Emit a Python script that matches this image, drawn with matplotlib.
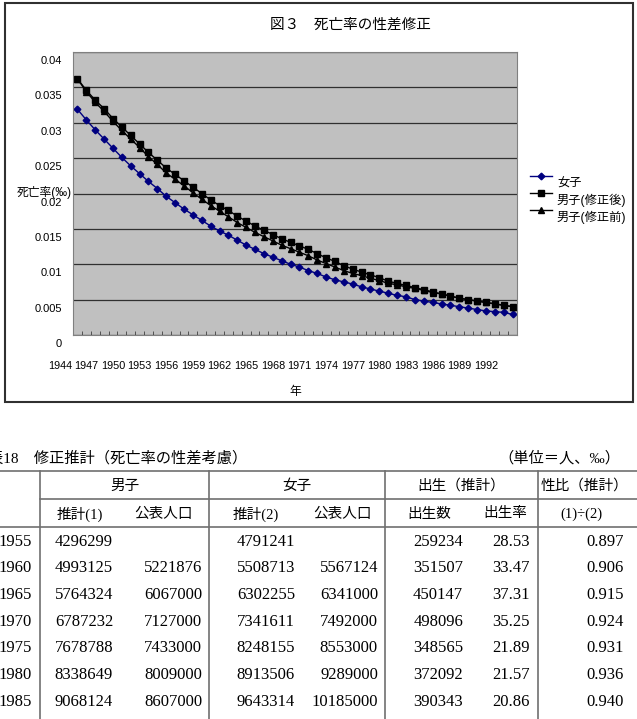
import numpy as np
import matplotlib
matplotlib.use("Agg")
import matplotlib.pyplot as plt
from matplotlib.lines import Line2D
from matplotlib.patches import Rectangle
from matplotlib.transforms import ScaledTranslation

plt.rcParams['font.family'] = ['Liberation Sans', 'Noto Sans CJK JP']
SERIF = ['Liberation Serif', 'Noto Sans CJK JP']

# ---- chart data (death rate) ----
years = list(range(1944, 1994))
female = [0.0319, 0.0304, 0.0290, 0.0277, 0.0264, 0.0251, 0.0239, 0.0228, 0.0217, 0.0207,
          0.0196, 0.0187, 0.0178, 0.0170, 0.0162, 0.0154, 0.0147, 0.0141, 0.0134, 0.0127,
          0.0121, 0.0115, 0.0110, 0.0105, 0.0100, 0.0096, 0.0091, 0.0087, 0.0082, 0.0078,
          0.0075, 0.0072, 0.0068, 0.0065, 0.0062, 0.0059, 0.0056, 0.0054, 0.0050, 0.0048,
          0.0046, 0.0044, 0.0042, 0.0040, 0.0038, 0.0036, 0.0034, 0.0033, 0.0032, 0.0029]
male_after = [0.0362, 0.0346, 0.0332, 0.0320, 0.0306, 0.0294, 0.0282, 0.0270, 0.0258, 0.0247,
              0.0236, 0.0227, 0.0218, 0.0209, 0.0200, 0.0191, 0.0183, 0.0176, 0.0168, 0.0161,
              0.0154, 0.0148, 0.0142, 0.0136, 0.0131, 0.0126, 0.0121, 0.0115, 0.0109, 0.0104,
              0.0098, 0.0093, 0.0089, 0.0085, 0.0081, 0.0076, 0.0073, 0.0070, 0.0067, 0.0064,
              0.0061, 0.0058, 0.0055, 0.0052, 0.0050, 0.0048, 0.0046, 0.0044, 0.0042, 0.0040]
male_before = [0.0362, 0.0344, 0.0329, 0.0316, 0.0302, 0.0289, 0.0277, 0.0265, 0.0252, 0.0241,
               0.0229, 0.0220, 0.0211, 0.0201, 0.0192, 0.0183, 0.0175, 0.0167, 0.0159, 0.0152,
               0.0145, 0.0139, 0.0133, 0.0127, 0.0122, 0.0117, 0.0112, 0.0106, 0.0101, 0.0096,
               0.0091, 0.0087, 0.0084, 0.0080, 0.0077, 0.0073, 0.0071, 0.0068, 0.0066, 0.0063,
               0.0060, 0.0058, 0.0055, 0.0052, 0.0050, 0.0048, 0.0046, 0.0044, 0.0042, 0.0040]
series_labels = ['女子', '男子(修正後)', '男子(修正前)']
yticks = [0, 0.005, 0.01, 0.015, 0.02, 0.025, 0.03, 0.035, 0.04]
ytick_labels = ['0', '0.005', '0.01', '0.015', '0.02', '0.025', '0.03', '0.035', '0.04']

# ---- table data ----
tbl_years = [1955, 1960, 1965, 1970, 1975, 1980, 1985]
male_est = [4296299, 4993125, 5764324, 6787232, 7678788, 8338649, 9068124]
male_pub = [None, 5221876, 6067000, 7127000, 7433000, 8009000, 8607000]
female_est = [4791241, 5508713, 6302255, 7341611, 8248155, 8913506, 9643314]
female_pub = [None, 5567124, 6341000, 7492000, 8553000, 9289000, 10185000]
births = [259234, 351507, 450147, 498096, 348565, 372092, 390343]
birth_rate = [28.53, 33.47, 37.31, 35.25, 21.89, 21.57, 20.86]
sex_ratio = [0.897, 0.906, 0.915, 0.924, 0.931, 0.936, 0.940]

W, H = 637, 719


def fx(x):
    return x / W


def fy(y):
    return 1 - y / H


fig = plt.figure(figsize=(W / 100, H / 100), dpi=100)

# outer chart frame
fig.add_artist(Rectangle((fx(5), fy(402)), fx(628), (402 - 3) / H, fill=False,
                         ec='#303030', lw=1.5, transform=fig.transFigure))

fig.text(fx(350), fy(25), '図３　死亡率の性差修正', ha='center', va='center',
         fontsize=10.5, family=SERIF)

ax = fig.add_axes([fx(73), fy(335), 444 / W, 283 / H])
ax.set_facecolor('#c0c0c0')
x = np.arange(len(years))
ax.plot(x, female, color='#000080', marker='D', ms=3.4, lw=1, label=series_labels[0])
ax.plot(x, male_after, color='black', marker='s', ms=4, lw=1, label=series_labels[1])
ax.plot(x, male_before, color='black', marker='^', ms=4, lw=1, label=series_labels[2])

ax.set_xlim(-0.5, len(years) - 0.5)
ax.set_ylim(0, 0.04)
ax.set_yticks(yticks)
ax.set_yticklabels(ytick_labels, fontsize=8)
ax.yaxis.grid(True, color='#303030', lw=0.9)
ax.set_axisbelow(True)
for s in ax.spines.values():
    s.set_color('#808080')
ax.tick_params(axis='y', length=0, pad=8)

ax.set_xticks(x[::3])
ax.set_xticklabels([str(y) for y in years[::3]], fontsize=7.8)
ax.set_xticks(np.arange(-0.5, len(years), 1), minor=True)
ax.tick_params(axis='x', which='major', length=0, pad=19)
ax.tick_params(axis='x', which='minor', direction='in', length=3, color='#404040')

# labels in the source sit a little off their ticks
for lbl in ax.get_yticklabels():
    lbl.set_transform(lbl.get_transform() + ScaledTranslation(0, -0.08, fig.dpi_scale_trans))
for lbl in ax.get_xticklabels():
    lbl.set_transform(lbl.get_transform() + ScaledTranslation(-0.176, 0, fig.dpi_scale_trans))

ax.set_ylabel('死亡率(‰)', rotation=0, ha='left', va='center', fontsize=8.5)
ax.yaxis.set_label_coords((16.7 - 73) / 444, (335 - 192.3) / 283)
ax.set_xlabel('年', va='center', fontsize=8.5)
ax.xaxis.set_label_coords(0.5, (335 - 391.7) / 283)

leg = fig.legend(loc='upper left', bbox_to_anchor=(fx(530), fy(171)), frameon=False,
                 prop={'family': ['Liberation Sans', 'Noto Sans CJK JP'], 'size': 8.8},
                 handlelength=1.8, handletextpad=0.4, labelspacing=0.32,
                 borderpad=0, borderaxespad=0)
for t in leg.get_texts():
    t.set_y(-7)

# ---- table ----
fig.text(fx(-12.3), fy(458), '表18　修正推計（死亡率の性差考慮）', ha='left', va='center',
         fontsize=11, family=SERIF)
fig.text(fx(620), fy(458), '（単位＝人、‰）', ha='right', va='center',
         fontsize=11, family=SERIF)

line_c = '#707070'
for y0, x0 in [(470.7, 0), (498.7, 40), (526.7, 0)]:
    fig.add_artist(Line2D([fx(x0), fx(637)], [fy(y0), fy(y0)], transform=fig.transFigure,
                          color=line_c, lw=1.2))
for xv in [40, 209, 385, 538]:
    fig.add_artist(Line2D([fx(xv), fx(xv)], [fy(470.7), fy(719)], transform=fig.transFigure,
                          color=line_c, lw=1.2))

head1 = [('男子', 124.5), ('女子', 297), ('出生（推計）', 461), ('性比（推計）', 584)]
head2 = [('推計(1)', 80), ('公表人口', 164), ('推計(2)', 256), ('公表人口', 343),
         ('出生数', 429), ('出生率', 505), ('(1)÷(2)', 581)]
for s, xc in head1:
    fig.text(fx(xc), fy(486), s, ha='center', va='center', fontsize=10.5, family=SERIF)
for s, xc in head2:
    fig.text(fx(xc), fy(514), s, ha='center', va='center', fontsize=10.5, family=SERIF)

col_right = [32, 113, 202, 295, 378, 463, 530, 624]
for i in range(len(tbl_years)):
    row = [str(tbl_years[i]), str(male_est[i]),
           '' if male_pub[i] is None else str(male_pub[i]),
           str(female_est[i]),
           '' if female_pub[i] is None else str(female_pub[i]),
           str(births[i]), f'{birth_rate[i]:.2f}', f'{sex_ratio[i]:.3f}']
    yr = 541.7 + 26.67 * i
    for s, xr in zip(row, col_right):
        fig.text(fx(xr), fy(yr), s, ha='right', va='center', fontsize=12, family=SERIF)

fig.savefig('out.png', dpi=100)
